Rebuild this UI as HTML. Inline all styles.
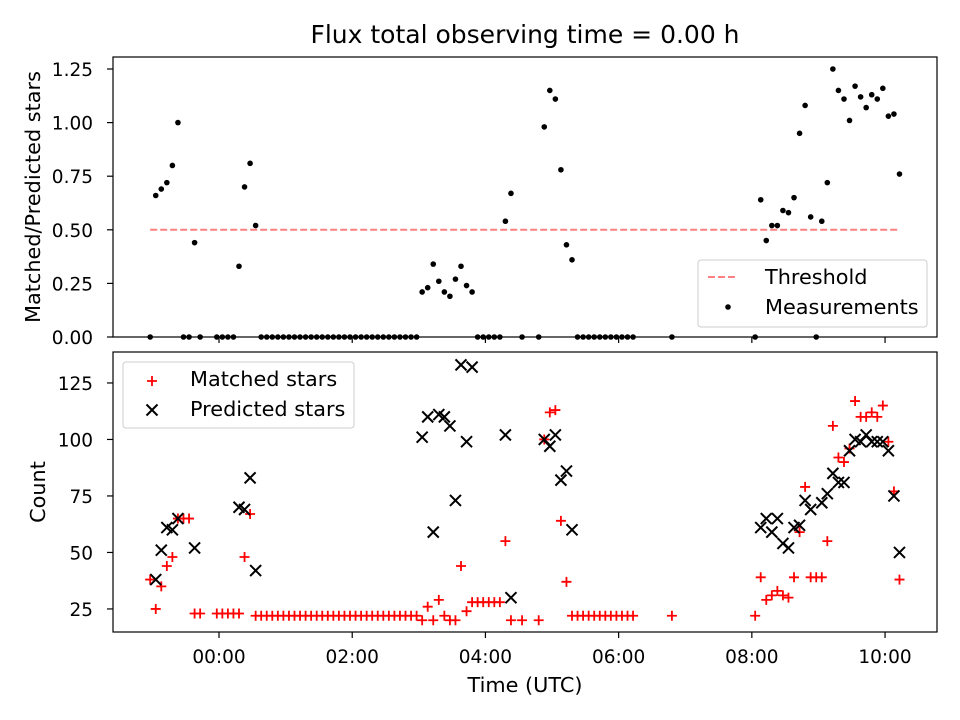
<!DOCTYPE html>
<html><head><meta charset="utf-8">
<style>
html,body{margin:0;padding:0;background:#fff;}
svg{display:block;font-family:"DejaVu Sans","Liberation Sans",sans-serif;}
</style></head>
<body>
<svg id="chart" width="960" height="720" viewBox="0 0 960 720" xmlns="http://www.w3.org/2000/svg">
<rect x="0" y="0" width="960" height="720" fill="#fff"/>
<text x="525" y="43" font-size="25" text-anchor="middle">Flux total observing time = 0.00 h</text>
<g id="topg"></g>
<g id="botg"></g>
</svg>
<script>
// times in minutes relative to 00:00 UTC
const ratioTimes = [
-62,-57,-52,-47,-42,-37,-32,-27,-22,-17,
-2,3,8,13,18,23,28,33,
38,43,48,53,58,63,68,73,78,83,
88,93,98,103,108,113,118,123,128,133,
138,143,148,153,158,163,168,173,178,
183,188,193,198,203,208,213,218,223,228,
233,238,243,248,253,258,263,273,288,
293,298,303,308,313,318,
323,328,333,338,343,348,353,358,363,368,373,
408,483,
488,493,498,503,508,513,518,523,528,533,538,543,548,553,558,563,568,573,578,583,588,593,598,603,608,613];
const ratioValues = [
0,0.66,0.69,0.72,0.80,1.00,0,0,0.44,0,
0,0,0,0,0.33,0.70,0.81,0.52,
0,0,0,0,0,0,0,0,0,0,
0,0,0,0,0,0,0,0,0,0,
0,0,0,0,0,0,0,0,0,
0.21,0.23,0.34,0.26,0.21,0.19,0.27,0.33,0.24,0.21,
0,0,0,0,0,0.54,0.67,0,0,
0.98,1.15,1.11,0.78,0.43,0.36,
0,0,0,0,0,0,0,0,0,0,0,
0,0,
0.64,0.45,0.52,0.52,0.59,0.58,0.65,0.95,1.08,0.56,0,0.54,0.72,1.25,1.15,1.11,1.01,1.17,1.12,1.07,1.13,1.11,1.16,1.03,1.04,0.76];
const threshold = 0.5;
const matchedTimes = ratioTimes.slice();
const matchedValues = [
38,25,35,44,48,65,65,65,23,23,
23,23,23,23,23,48,67,22,
22,22,22,22,22,22,22,22,22,22,
22,22,22,22,22,22,22,22,22,22,
22,22,22,22,22,22,22,22,22,
20,26,20,29,22,20,20,44,24,28,
28,28,28,28,28,55,20,20,20,
100,112,113,64,37,22,
22,22,22,22,22,22,22,22,22,22,22,
22,22,
39,29,31,33,31,30,39,59,79,39,39,39,55,106,92,90,96,117,110,110,112,110,115,99,77,38];
const predictedTimes = [
-57,-52,-47,-42,-37,-22,
18,23,28,33,
183,188,193,198,203,208,213,218,223,228,
258,263,
293,298,303,308,313,318,
488,493,498,503,508,513,518,523,528,533,
543,548,553,558,563,568,573,578,583,588,593,598,603,608,613];
const predictedValues = [
38,51,61,60,65,52,
70,69,83,42,
101,110,59,111,110,106,73,133,99,132,
102,30,
100,97,102,82,86,60,
61,65,59,65,54,52,61,62,73,69,
72,76,85,81,81,95,100,99,102,99,99,99,95,75,50];
const xTickValues = [0,120,240,360,480,600];
const xTickLabels = ["00:00","02:00","04:00","06:00","08:00","10:00"];
const topTickValues = [0,0.25,0.5,0.75,1.0,1.25];
const topTickLabels = ["0.00","0.25","0.50","0.75","1.00","1.25"];
const botTickValues = [25,50,75,100,125];
const botTickLabels = ["25","50","75","100","125"];

const NS="http://www.w3.org/2000/svg";
const L=113,R=937;
const xMin=-95.5,xMax=646.8;
const X=m=>L+(m-xMin)/(xMax-xMin)*(R-L);
const T0=57,T1=337,B0=352,B1=632;
const yTop=v=>T1-(v-0)/(1.306-0)*(T1-T0);
const yBot=v=>B1-(v-14.8)/(138.7-14.8)*(B1-B0);
const FS=18.5, LFS=20.8;
function mk(tag,attrs,parent){const e=document.createElementNS(NS,tag);for(const k in attrs)e.setAttribute(k,attrs[k]);parent.appendChild(e);return e;}
const gTop=document.getElementById('topg'),gBot=document.getElementById('botg');

function axes(g,y0,y1,ticksV,ticksL,yf,showX,nameP){
  const fr=mk('rect',{x:L,y:y0,width:R-L,height:y1-y0,fill:'none',stroke:'#000','stroke-width':1.2},g);
  
  
  xTickValues.forEach((v,i)=>{
    const x=X(v);
    const t=mk('line',{x1:x,x2:x,y1:y1,y2:y1+6,stroke:'#000','stroke-width':1.2},g);
    
    
    if(showX){const tx=mk('text',{x:x,y:y1+31,'font-size':FS,'text-anchor':'middle'},g);tx.textContent=xTickLabels[i];
      
      }
  });
  ticksV.forEach((v,i)=>{
    const y=yf(v);
    const t=mk('line',{x1:L-6,x2:L,y1:y,y2:y,stroke:'#000','stroke-width':1.2},g);
    
    
    const tx=mk('text',{x:L-20,y:y+7,'font-size':FS,'text-anchor':'end'},g);tx.textContent=ticksL[i];
    
    
  });
}
axes(gTop,T0,T1,topTickValues,topTickLabels,yTop,false,'top');
axes(gBot,B0,B1,botTickValues,botTickLabels,yBot,true,'bottom');

let t=mk('text',{x:0,y:0,'font-size':LFS,'text-anchor':'middle',transform:'translate(40,197) rotate(-90)'},gTop);
t.textContent='Matched/Predicted stars';


t=mk('text',{x:0,y:0,'font-size':LFS,'text-anchor':'middle',transform:'translate(45,492) rotate(-90)'},gBot);
t.textContent='Count';


t=mk('text',{x:525,y:692,'font-size':LFS,'text-anchor':'middle'},gBot);
t.textContent='Time (UTC)';



const th=mk('line',{x1:X(ratioTimes[0]),x2:X(ratioTimes[ratioTimes.length-1]),y1:yTop(threshold),y2:yTop(threshold),stroke:'#ff8080','stroke-width':2,'stroke-dasharray':'7,3'},gTop);


ratioTimes.forEach((m,i)=>{
  const c=mk('circle',{cx:X(m),cy:yTop(ratioValues[i]),r:2.8,fill:'#000'},gTop);
  
  
});
function plus(g,x,y,name){const p=mk('path',{d:`M${x-5},${y}H${x+5}M${x},${y-5}V${y+5}`,stroke:'#f00','stroke-width':1.8,fill:'none'},g);
  
  }
function cross(g,x,y,name){const p=mk('path',{d:`M${x-5.5},${y-5.5}L${x+5.5},${y+5.5}M${x-5.5},${y+5.5}L${x+5.5},${y-5.5}`,stroke:'#000','stroke-width':2,fill:'none'},g);
  
  }
matchedTimes.forEach((m,i)=>plus(gBot,X(m),yBot(matchedValues[i]),'matched-star-point'));
predictedTimes.forEach((m,i)=>cross(gBot,X(m),yBot(predictedValues[i]),'predicted-star-point'));

let lg=mk('rect',{x:698,y:260,width:229,height:67,rx:3,fill:'#fff','fill-opacity':0.8,stroke:'#ccc'},gTop);


let ln=mk('line',{x1:708,x2:736,y1:277,y2:277,stroke:'#ff8080','stroke-width':2,'stroke-dasharray':'7,3'},gTop);


t=mk('text',{x:765,y:284,'font-size':LFS},gTop);t.textContent='Threshold';


let c=mk('circle',{cx:728,cy:307,r:2.8,fill:'#000'},gTop);


t=mk('text',{x:765,y:314,'font-size':LFS},gTop);t.textContent='Measurements';



lg=mk('rect',{x:123,y:362,width:231,height:66,rx:3,fill:'#fff','fill-opacity':0.8,stroke:'#ccc'},gBot);


plus(gBot,152,381,'legend-matched-swatch');
t=mk('text',{x:190,y:386,'font-size':LFS},gBot);t.textContent='Matched stars';


cross(gBot,152,410,'legend-predicted-swatch');
t=mk('text',{x:190,y:416,'font-size':LFS},gBot);t.textContent='Predicted stars';


</script>
</body></html>
